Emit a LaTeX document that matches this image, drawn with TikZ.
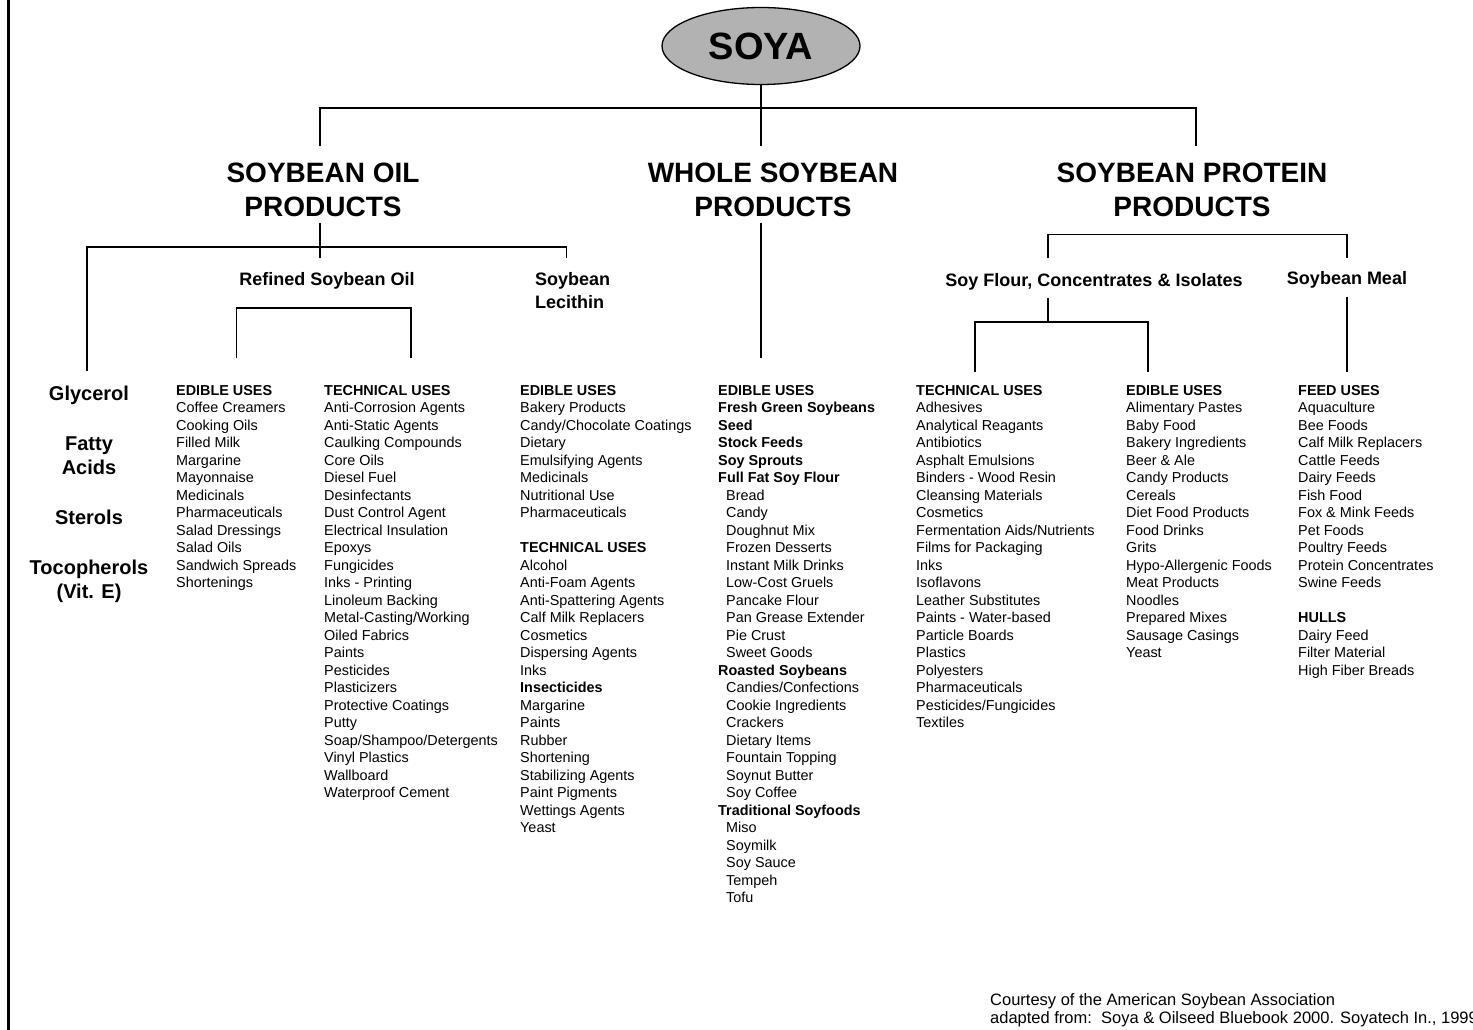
\documentclass[tikz,border=0pt]{standalone}
\usepackage{fontspec}
\setmainfont{Liberation Sans}
\usetikzlibrary{shapes.geometric}

\tikzset{
  branch/.style={line width=1.3pt},
  toptitle/.style={font=\fontsize{28}{34}\selectfont\bfseries, align=center, inner sep=0pt},
  sublabel/.style={font=\fontsize{18}{23}\selectfont\bfseries, align=left, inner sep=0pt},
  chem/.style={font=\fontsize{20}{24}\selectfont\bfseries, align=center, inner sep=0pt, anchor=north},
  uselist/.style={font=\fontsize{14.4}{17.5}\selectfont, align=left, anchor=north west, inner sep=0pt},
}
\newcommand{\subuse}[1]{\hspace*{8pt}#1}

\begin{document}
\begin{tikzpicture}[x=1pt,y=-1pt]
	\useasboundingbox (0,0) rectangle (1473,1030);
	\draw [line width=3pt](8.5,0)--(8.5,1030);

	% root and main groups
	\node[ellipse, draw, line width=1.3pt, fill=black!30, minimum width=198, minimum height=77, inner sep=0pt,
	      font=\fontsize{38}{40}\selectfont\bfseries] (soya) at (761,46) {SOYA};
	\node[toptitle] (oil) at (323,190) {SOYBEAN OIL\\PRODUCTS};
	\node[toptitle] (whole) at (773,190) {WHOLE SOYBEAN\\PRODUCTS};
	\node[toptitle] (protein) at (1192,190) {SOYBEAN PROTEIN\\PRODUCTS};

	\node[sublabel, anchor=base] (refined) at (327,285) {Refined Soybean Oil};
	\node[sublabel, anchor=north west] (lecithin) at (535,272) {Soybean\\Lecithin};
	\node[sublabel, anchor=base] (flour) at (1094,286) {Soy Flour, Concentrates \& Isolates};
	\node[sublabel, anchor=base] (meal) at (1347,284) {Soybean Meal};

	\node[chem] (glycerol) at (89,386) {Glycerol};
	\node[chem] (fatty) at (89,437) {Fatty\\Acids};
	\node[chem] (sterols) at (89,510) {Sterols};
	\node[chem] (tocopherols) at (89,560) {Tocopherols\\(Vit. E)};

	% use lists
	\node[uselist] (oiledible) at (176,385) {\textbf{EDIBLE USES}\\Coffee Creamers\\Cooking Oils\\Filled Milk\\
		Margarine\\Mayonnaise\\Medicinals\\Pharmaceuticals\\Salad Dressings\\Salad Oils\\Sandwich Spreads\\Shortenings};
	\node[uselist] (oiltech) at (324,385) {\textbf{TECHNICAL USES}\\Anti-Corrosion Agents\\Anti-Static Agents\\
		Caulking Compounds\\Core Oils\\Diesel Fuel\\Desinfectants\\Dust Control Agent\\Electrical Insulation\\
		Epoxys\\Fungicides\\Inks - Printing\\Linoleum Backing\\Metal-Casting/Working\\Oiled Fabrics\\Paints\\
		Pesticides\\Plasticizers\\Protective Coatings\\Putty\\Soap/Shampoo/Detergents\\Vinyl Plastics\\
		Wallboard\\Waterproof Cement};
	\node[uselist] (lecuses) at (520,385) {\textbf{EDIBLE USES}\\Bakery Products\\Candy/Chocolate Coatings\\
		Dietary\\Emulsifying Agents\\Medicinals\\Nutritional Use\\Pharmaceuticals\\[17.5pt]
		\textbf{TECHNICAL USES}\\Alcohol\\Anti-Foam Agents\\Anti-Spattering Agents\\Calf Milk Replacers\\
		Cosmetics\\Dispersing Agents\\Inks\\\textbf{Insecticides}\\Margarine\\Paints\\Rubber\\Shortening\\
		Stabilizing Agents\\Paint Pigments\\Wettings Agents\\Yeast};
	\node[uselist] (wholeuses) at (718,385) {\textbf{EDIBLE USES}\\\textbf{Fresh Green Soybeans}\\\textbf{Seed}\\
		\textbf{Stock Feeds}\\\textbf{Soy Sprouts}\\\textbf{Full Fat Soy Flour}\\
		\subuse{Bread}\\\subuse{Candy}\\\subuse{Doughnut Mix}\\\subuse{Frozen Desserts}\\
		\subuse{Instant Milk Drinks}\\\subuse{Low-Cost Gruels}\\\subuse{Pancake Flour}\\
		\subuse{Pan Grease Extender}\\\subuse{Pie Crust}\\\subuse{Sweet Goods}\\
		\textbf{Roasted Soybeans}\\\subuse{Candies/Confections}\\\subuse{Cookie Ingredients}\\
		\subuse{Crackers}\\\subuse{Dietary Items}\\\subuse{Fountain Topping}\\\subuse{Soynut Butter}\\
		\subuse{Soy Coffee}\\\textbf{Traditional Soyfoods}\\\subuse{Miso}\\\subuse{Soymilk}\\
		\subuse{Soy Sauce}\\\subuse{Tempeh}\\\subuse{Tofu}};
	\node[uselist] (flourtech) at (916,385) {\textbf{TECHNICAL USES}\\Adhesives\\Analytical Reagants\\Antibiotics\\
		Asphalt Emulsions\\Binders - Wood Resin\\Cleansing Materials\\Cosmetics\\Fermentation Aids/Nutrients\\
		Films for Packaging\\Inks\\Isoflavons\\Leather Substitutes\\Paints - Water-based\\Particle Boards\\
		Plastics\\Polyesters\\Pharmaceuticals\\Pesticides/Fungicides\\Textiles};
	\node[uselist] (flouredible) at (1126,385) {\textbf{EDIBLE USES}\\Alimentary Pastes\\Baby Food\\
		Bakery Ingredients\\Beer \& Ale\\Candy Products\\Cereals\\Diet Food Products\\Food Drinks\\Grits\\
		Hypo-Allergenic Foods\\Meat Products\\Noodles\\Prepared Mixes\\Sausage Casings\\Yeast};
	\node[uselist] (mealfeed) at (1298,385) {\textbf{FEED USES}\\Aquaculture\\Bee Foods\\Calf Milk Replacers\\
		Cattle Feeds\\Dairy Feeds\\Fish Food\\Fox \& Mink Feeds\\Pet Foods\\Poultry Feeds\\
		Protein Concentrates\\Swine Feeds\\[17.5pt]\textbf{HULLS}\\Dairy Feed\\Filter Material\\High Fiber Breads};

	\node[font=\fontsize{16.5}{18}\selectfont, align=left, anchor=north west, inner sep=0pt] (credit) at (990,993)
		{Courtesy of the American Soybean Association\\adapted from:\ \ Soya \& Oilseed Bluebook 2000. Soyatech In., 1999};

	% connectors
	\coordinate (hub) at (761,108);
	\coordinate (flourfork) at (1048,322);
	\coordinate (techdrop) at (975,372);
	\coordinate (edibledrop) at (1148,372);

	\draw [branch](soya.south)--([yshift=17pt]soya.south |- whole.north);
	\draw [branch]([xshift=-3pt,yshift=17pt]oil.north) |- (hub) -| ([xshift=4pt,yshift=17pt]protein.north);

	\draw [branch]([xshift=-3pt,yshift=-6pt]oil.south)--([xshift=-3pt,yshift=14pt]oil.south |- refined.north);
	\draw [branch]([xshift=-2pt,yshift=15pt]glycerol.north) |- ([xshift=-6pt,yshift=25pt]lecithin.north)--([xshift=-6pt,yshift=14pt]lecithin.north);
	\draw [branch]([yshift=27pt]oiledible.north) |- ([yshift=77pt]oiltech.north)--([yshift=27pt]oiltech.north);

	\draw [branch]([yshift=-6pt]soya.south |- whole.south)--([yshift=27pt]soya.south |- wholeuses.north);

	\draw [branch]([xshift=-46pt,yshift=15pt]flour.north) |- ([yshift=36pt]meal.north)--([yshift=13pt]meal.north);
	\draw [branch]([yshift=-8pt]flour.south -| flourfork)--(flourfork);
	\draw [branch](techdrop) |- (flourfork) -| (edibledrop);
	\draw [branch]([yshift=-9pt]meal.south)--([yshift=13pt]meal.south |- mealfeed.north);
\end{tikzpicture}
\end{document}
